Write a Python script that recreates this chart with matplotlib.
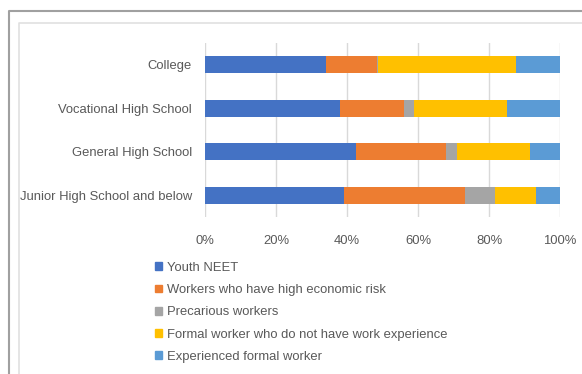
import matplotlib.pyplot as plt
from matplotlib.lines import Line2D
from matplotlib.patches import Patch
import numpy as np

plt.rcParams['font.family'] = ['Liberation Sans', 'DejaVu Sans']

categories = ["Junior High School and below", "General High School",
              "Vocational High School", "College"]
series_names = ["Youth NEET", "Workers who have high economic risk",
                "Precarious workers",
                "Formal worker who do not have work experience",
                "Experienced formal worker"]
youth_neet = [39.1, 42.4, 38.0, 34.0]
high_risk = [34.0, 25.4, 18.0, 14.5]
precarious = [8.6, 3.2, 2.8, 0.3]
formal_no_exp = [11.5, 20.5, 26.2, 38.7]
experienced = [6.8, 8.5, 15.0, 12.5]
x_ticks = [0, 20, 40, 60, 80, 100]
colors = ["#4472C4", "#ED7D31", "#A5A5A5", "#FFC000", "#5B9BD5"]
text_color = "#595959"

W, H = 582, 374
fig = plt.figure(figsize=(W / 100, H / 100), dpi=100)
ax = fig.add_axes([205 / W, 1 - 217 / H, 355 / W, 174 / H])

data = [youth_neet, high_risk, precarious, formal_no_exp, experienced]
y = np.arange(len(categories))
left = np.zeros(len(categories))
for vals, col, name in zip(data, colors, series_names):
    ax.barh(y, vals, left=left, height=0.4, color=col, label=name, zorder=3)
    left = left + np.array(vals)

ax.set_xlim(0, 100)
ax.set_ylim(-0.5, 3.5)
ax.set_xticks(x_ticks)
ax.set_xticklabels([f"{t}%" for t in x_ticks])
ax.set_yticks(y)
ax.set_yticklabels(categories)
ax.grid(axis="x", color="#d9d9d9", linewidth=1, zorder=0)
for s in ax.spines.values():
    s.set_visible(False)
ax.tick_params(axis="both", length=0, labelsize=9.4, colors=text_color)
ax.tick_params(axis="x", pad=13)
ax.tick_params(axis="y", pad=9.5)

handles = [Patch(color=c) for c in colors]
fig.legend(handles, series_names, loc="upper left",
           bbox_to_anchor=(155 / W, 1 - 262 / H), frameon=False,
           fontsize=9.4, labelcolor=text_color, handlelength=0.55,
           handleheight=0.55, handletextpad=0.4, labelspacing=0.78,
           borderpad=0, borderaxespad=0)

# outer and inner frames
fig.add_artist(Line2D([8.5 / W, 8.5 / W, 1], [0, 1 - 11 / H, 1 - 11 / H],
                      transform=fig.transFigure, color="#a0a0a0", lw=1.5))
fig.add_artist(Line2D([18.5 / W, 18.5 / W, 1], [0, 1 - 22.5 / H, 1 - 22.5 / H],
                      transform=fig.transFigure, color="#e0e0e0", lw=1.2))

fig.savefig("out.png", dpi=100)
